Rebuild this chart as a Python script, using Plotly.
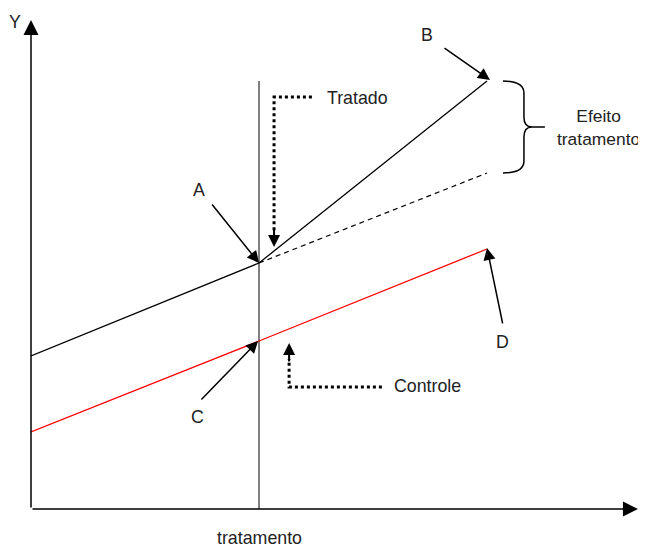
"""
Diagrama de diferenças-em-diferenças (tratado x controle).
"""
import plotly.graph_objects as go

# ---------------------------------------------------------------------------
# Dados (t: 0 = início, 1 = tratamento, 2 = fim)
# ---------------------------------------------------------------------------
periodos = [0, 1, 2]
tratado = [15.3, 24.6, 42.8]
contrafactual = [24.6, 33.6]  # tendência do tratado sem o tratamento (t = 1, 2)
controle = [7.7, 16.8, 26.0]

# eixos desenhados à mão (setas)
eixo_x_fim = 2.662
eixo_y_fim = 48.9

PRETO = "#000000"
VERMELHO = "#ff0000"
FONTE = "Liberation Sans, Arial, sans-serif"

fig = go.Figure()

# linha vertical do tratamento
fig.add_trace(go.Scatter(x=[1, 1], y=[0, tratado[2]], mode="lines",
                         line=dict(color=PRETO, width=1)))

# tratado (antes/depois)
fig.add_trace(go.Scatter(x=periodos, y=tratado, mode="lines",
                         line=dict(color=PRETO, width=1.3)))

# contrafactual tracejado
fig.add_trace(go.Scatter(x=periodos[1:], y=contrafactual, mode="lines",
                         line=dict(color=PRETO, width=1.2, dash="5px,4px")))

# controle
fig.add_trace(go.Scatter(x=periodos, y=controle, mode="lines",
                         line=dict(color=VERMELHO, width=1.3)))

# setas pontilhadas "Tratado" e "Controle"
fig.add_trace(go.Scatter(x=[1.232, 1.066, 1.066], y=[41.2, 41.2, 27.8], mode="lines",
                         line=dict(color=PRETO, width=3, dash="dot")))
fig.add_trace(go.Scatter(x=[1.539, 1.132, 1.132], y=[12.2, 12.2, 15.0], mode="lines",
                         line=dict(color=PRETO, width=3, dash="dot")))


def seta(x, y, ax, ay, largura=1.5, tamanho=1.6):
    fig.add_annotation(x=x, y=y, ax=ax, ay=ay, xref="x", yref="y",
                       axref="x", ayref="y", text="", showarrow=True,
                       arrowhead=2, arrowsize=tamanho, arrowwidth=largura,
                       arrowcolor=PRETO, standoff=0, startstandoff=0)


def texto(x, y, s, xanchor="center", xref="x", yref="y", tam=17.8):
    fig.add_annotation(x=x, y=y, xref=xref, yref=yref, text=s, showarrow=False,
                       xanchor=xanchor, yanchor="middle",
                       font=dict(family=FONTE, size=tam, color="#222222"))


# eixos
seta(0, eixo_y_fim, 0, 0, largura=1.5, tamanho=2.0)
seta(eixo_x_fim, 0, 0, 0, largura=1.5, tamanho=2.0)

# pontas das setas pontilhadas
seta(1.066, 26.2, 1.066, 28.2, largura=2, tamanho=1.2)
seta(1.132, 16.6, 1.132, 14.6, largura=2, tamanho=1.2)

# setas A, B, C, D
seta(1.0, tratado[1], 0.789, 30.6)
seta(2.013, 42.9, 1.807, 46.2)
seta(0.996, controle[1], 0.741, 10.8)
seta(2.0, 26.1, 2.07, 18.4)

texto(-0.026, 48.7, "Y", xref="paper")
texto(0.737, 31.9, "A")
texto(1.737, 47.4, "B")
texto(0.732, 9.2, "C")
texto(2.07, 16.7, "D")
texto(1.29, 41.1, "Tratado", xanchor="left")
texto(1.585, 12.3, "Controle", xanchor="left")
texto(1.0, -0.058, "tratamento", yref="paper")

# chave "Efeito tratamento"
topo, base = tratado[2], contrafactual[1]
meio = (topo + base) / 2
x0, xv, xp = 2.07, 2.162, 2.254
chave = (
    f"M {x0},{topo} Q {xv},{topo} {xv},{topo - 1.2} "
    f"L {xv},{meio + 1.0} Q {xv},{meio} {xv + 0.035},{meio} L {xp},{meio} "
    f"M {xv + 0.035},{meio} Q {xv},{meio} {xv},{meio - 1.0} "
    f"L {xv},{base + 1.2} Q {xv},{base} {x0},{base}"
)
fig.add_shape(type="path", path=chave, xref="x", yref="y",
              line=dict(color=PRETO, width=1.5))
texto(2.49, meio, "Efeito<br>tratamento", tam=17.4)

# a página tem margem de 8 px no body: figura menor e deslocada
fig.update_layout(
    width=638, height=540,
    margin=dict(l=23, r=0, t=0, b=39),
    paper_bgcolor="white", plot_bgcolor="white",
    showlegend=False,
    xaxis=dict(range=[0, 615 / 228], visible=False, fixedrange=True),
    yaxis=dict(range=[0, 50.1], visible=False, fixedrange=True),
)

fig.write_html("out.html")
